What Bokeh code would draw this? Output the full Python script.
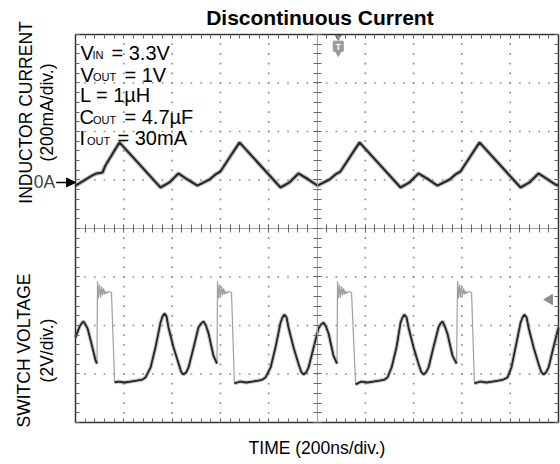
import numpy as np
from bokeh.plotting import figure
from bokeh.models import (Range1d, LinearAxis, FixedTicker, Label, Arrow,
                          NormalHead, ColumnDataSource)
from bokeh.embed import file_html
from bokeh.resources import INLINE

# ---------------- data ----------------
# Inductor current (200 mA/div), time in ns (200 ns/div)
cur_time = [0, 29, 70, 87, 112, 124, 182, 352, 389, 426, 464, 505, 555, 580, 600, 679,
            849, 886, 923, 965, 1002, 1052, 1077, 1097, 1176,
            1346, 1383, 1420, 1462, 1499, 1549, 1574, 1594, 1673,
            1843, 1880, 1917, 1988, 2000]
cur_mA = [-13, 4, 29, 37, 41, 70, 165, -21, 0, 37, 12, -13, 12, 33, 45, 165,
          -21, 0, 37, 12, -13, 12, 33, 45, 165,
          -21, 0, 37, 12, -13, 12, 33, 45, 165,
          -21, 0, 37, -9, -13]

# Switch-node voltage (2 V/div)
sw_time = [0, 17, 25, 33, 41, 50, 66, 83, 89,
           91, 95, 99, 104, 108, 112, 116, 120, 124, 128, 137, 149,
           162, 178, 203, 228, 253, 277, 290,
           311, 331, 352, 360, 369, 377, 385, 406, 427, 437, 447, 458, 468, 489, 509, 520, 530, 540,
           551, 571, 586,
           588, 592, 596, 600, 605, 609, 613, 617, 621, 625, 634, 646,
           658, 683, 708, 733, 758, 774, 787,
           808, 828, 849, 857, 865, 874, 882, 903, 923, 934, 944, 955, 965, 986, 1006, 1017, 1027,
           1037, 1048, 1068, 1083,
           1085, 1089, 1093, 1097, 1102, 1106, 1110, 1114, 1118, 1122, 1130, 1143,
           1160, 1184, 1209, 1234, 1259, 1280, 1292,
           1309, 1329, 1346, 1354, 1362, 1371, 1379, 1400, 1420, 1431, 1441, 1451, 1462, 1482, 1503,
           1511, 1520, 1528, 1540, 1561, 1578,
           1582, 1586, 1590, 1594, 1598, 1603, 1607, 1611, 1615, 1619, 1627, 1640,
           1652, 1677, 1702, 1727, 1752, 1772, 1789,
           1805, 1822, 1843, 1851, 1859, 1868, 1876, 1897, 1917, 1928, 1938, 1948, 1959, 1979, 2000]
sw_volt = [1.86, 2.31, 2.43, 2.52, 2.39, 2.23, 1.61, 0.91, 0.78,
           4.17, 3.46, 4.04, 3.51, 3.96, 3.59, 3.88, 3.63, 3.79, 3.67, 3.75, 3.71,
           0.00, 0.04, 0.00, 0.04, 0.08, 0.12, 0.21,
           0.62, 1.44, 2.47, 2.72, 2.85, 2.72, 2.27, 1.44, 0.78, 0.45, 0.33, 0.41, 0.62, 1.44, 2.27,
           2.43, 2.52, 2.35, 2.02, 1.11, 0.78,
           4.17, 3.46, 4.04, 3.51, 3.96, 3.59, 3.88, 3.63, 3.79, 3.67, 3.75, 3.71,
           -0.04, 0.04, 0.00, 0.04, 0.08, 0.12, 0.21,
           0.62, 1.44, 2.47, 2.68, 2.80, 2.68, 2.27, 1.44, 0.78, 0.45, 0.33, 0.41, 0.62, 1.44, 2.23,
           2.39, 2.47, 2.31, 2.02, 1.11, 0.78,
           4.17, 3.46, 4.04, 3.51, 3.96, 3.59, 3.88, 3.63, 3.79, 3.67, 3.75, 3.71,
           -0.08, 0.04, 0.00, 0.04, 0.08, 0.12, 0.21,
           0.62, 1.44, 2.47, 2.68, 2.80, 2.68, 2.27, 1.44, 0.78, 0.45, 0.33, 0.41, 0.62, 1.44, 2.27,
           2.43, 2.52, 2.35, 2.02, 1.11, 0.78,
           4.17, 3.46, 4.04, 3.51, 3.96, 3.59, 3.88, 3.63, 3.79, 3.67, 3.75, 3.71,
           -0.04, 0.04, 0.00, 0.04, 0.08, 0.12, 0.21,
           0.62, 1.44, 2.47, 2.68, 2.80, 2.68, 2.27, 1.44, 0.78, 0.45, 0.33, 0.41, 0.62, 1.44, 2.27]

trigger_time = 1088   # ns
trigger_level = 3.42  # V

title = "Discontinuous Current"
x_label = "TIME (200ns/div.)"
y1_label = ["INDUCTOR CURRENT", "(200mA/div.)"]
y2_label = ["SWITCH VOLTAGE", "(2V/div.)"]

FONT = "Liberation Sans"

# screen: 10 x 200 ns horizontally, 8 divisions vertically
SCREEN_T = (0, 2000)
SCREEN_DIV = (-4, 4)
ZERO_A_DIV = 0.95      # 0 A marker position (divisions above centre)
ZERO_V_DIV = -3.175    # 0 V level of the switch trace (divisions)
MA_PER_DIV = 200
V_PER_DIV = 2

# canvas extent expressed in screen units (screen occupies the middle of the canvas)
x_lo, x_hi = -310.6, 2008.3
y_lo, y_hi = -4.866, 4.701

# ---------------- figure ----------------
p = figure(width=560, height=464, x_range=Range1d(x_lo, x_hi), y_range=Range1d(y_lo, y_hi),
           x_axis_type=None, y_axis_type=None, output_backend="svg",
           toolbar_location=None, min_border=0)
p.title.text = ""
p.outline_line_color = None
p.background_fill_color = "white"
p.border_fill_color = "white"

p.extra_y_ranges = {
    "cur": Range1d((y_lo - ZERO_A_DIV) * MA_PER_DIV, (y_hi - ZERO_A_DIV) * MA_PER_DIV),
    "volt": Range1d((y_lo - ZERO_V_DIV) * V_PER_DIV, (y_hi - ZERO_V_DIV) * V_PER_DIV),
}

xt_major = list(range(0, 2001, 200))
xt_minor = list(range(0, 2001, 40))
yt_major = list(range(-4, 5))
yt_minor = [round(v, 1) for v in np.arange(-4, 4.01, 0.2)]

# dotted graticule: dots at every minor division along each major line
gx = [t for t in xt_major if t not in (0, 1000, 2000)]
gy = [t for t in yt_major if t not in (-4, 0, 4)]
dot_x = [x for x in gx for y in yt_minor[1:-1]] + [x for y in gy for x in xt_minor[1:-1]]
dot_y = [y for x in gx for y in yt_minor[1:-1]] + [y for y in gy for x in xt_minor[1:-1]]
p.scatter(dot_x, dot_y, marker="square", size=1.7, line_width=0, fill_color="#8f8f8f")


def tick_axis(panel, ticks, minor, fixed, bounds, tin=0, tout=0, line_color="#333333",
              line_width=1.5):
    ax = LinearAxis(ticker=FixedTicker(ticks=ticks, minor_ticks=minor),
                    fixed_location=fixed, bounds=bounds,
                    major_tick_in=tin, major_tick_out=tout,
                    minor_tick_in=tin, minor_tick_out=tout,
                    axis_line_color=line_color, axis_line_width=line_width,
                    major_tick_line_color="#666666", minor_tick_line_color="#666666",
                    major_label_text_color=None)
    p.add_layout(ax, panel)
    return ax


# centre cross-hair
tick_axis("below", xt_major, xt_minor, 0, SCREEN_T, tin=4, tout=4, line_color="#a0a0a0", line_width=1)
tick_axis("left", yt_major, yt_minor, 1000, SCREEN_DIV, tin=4, tout=4, line_color="#a0a0a0", line_width=1)
# screen border with inward ticks
tick_axis("below", xt_major, xt_minor, SCREEN_DIV[0], SCREEN_T, tin=4)
tick_axis("below", xt_major, xt_minor, SCREEN_DIV[1], SCREEN_T, tout=4)
tick_axis("left", yt_major, yt_minor, SCREEN_T[0], SCREEN_DIV, tin=4)
tick_axis("left", yt_major, yt_minor, SCREEN_T[1], SCREEN_DIV, tout=4)

# ---------------- traces ----------------
cur_src = ColumnDataSource(dict(t=cur_time, i=cur_mA))
p.line("t", "i", source=cur_src, y_range_name="cur", line_color="#8a8a8a",
       line_width=4.5, line_alpha=0.55)
p.line("t", "i", source=cur_src, y_range_name="cur", line_color="#262626",
       line_width=2.1)

sv = np.array(sw_volt, dtype=float)
dark = np.where(sv < 3.3, sv, np.nan)
sw_src = ColumnDataSource(dict(t=sw_time, v=sv, vd=dark))
p.line("t", "v", source=sw_src, y_range_name="volt", line_color="#a0a0a0", line_width=1.2)
p.line("t", "vd", source=sw_src, y_range_name="volt", line_color="#8a8a8a",
       line_width=4.0, line_alpha=0.5)
p.line("t", "vd", source=sw_src, y_range_name="volt", line_color="#262626",
       line_width=1.8)

# trigger markers
p.scatter([trigger_time], [3.96], marker="inverted_triangle", size=7, color="#8c8c8c")
p.scatter([trigger_time], [3.76], marker="square", size=10, color="#9a9a9a")
p.scatter([trigger_time], [3.63], marker="inverted_triangle", size=7, color="#9a9a9a")
p.add_layout(Label(x=trigger_time, y=3.74, text="T", text_color="white", text_font=FONT,
                   text_font_style="bold", text_font_size="9px", text_align="center",
                   text_baseline="middle"))
p.scatter([1963], [trigger_level], y_range_name="volt", marker="triangle", angle=np.pi / 2,
          size=10, color="#8c8c8c")

# 0A marker
p.add_layout(Arrow(end=NormalHead(size=9, fill_color="black", line_color="black"),
                   x_start=-80, y_start=0, x_end=0, y_end=0, y_range_name="cur",
                   line_width=1.5, line_color="black"))
p.add_layout(Label(x=-84, y=0, y_range_name="cur", text="0A", text_font=FONT,
                   text_font_size="17.5px", text_align="right", text_baseline="middle"))

# ---------------- texts ----------------
def lab(x, y, text, size="17.5px", style="normal", align="left", baseline="alphabetic", angle=0):
    p.add_layout(Label(x=x, y=y, text=text, text_font=FONT, text_font_size=size,
                       text_font_style=style, text_align=align, text_baseline=baseline,
                       angle=angle, text_color="black"))

lab(1012, 4.36, title, size="21px", style="bold", align="center", baseline="middle")
lab(1000, -4.536, x_label, align="center", baseline="middle")
lab(-207, 2.392, y1_label[0], align="center", baseline="middle", angle=np.pi / 2)
lab(-116, 2.392, y1_label[1], align="center", baseline="middle", angle=np.pi / 2)
lab(-213, -2.515, y2_label[0], align="center", baseline="middle", angle=np.pi / 2)
lab(-120, -2.515, y2_label[1], align="center", baseline="middle", angle=np.pi / 2)

# condition block
MAIN, SUB = "20px", "11px"
lab(20.7, 3.614, "V", size=MAIN)
lab(70.4, 3.567, "IN", size=SUB)
lab(149.1, 3.614, "= 3.3V", size=MAIN)
lab(20.7, 3.169, "V", size=MAIN)
lab(72.5, 3.120, "OUT", size=SUB)
lab(202.9, 3.169, "= 1V", size=MAIN)
lab(18.6, 2.757, "L = 1µH", size=MAIN)
lab(16.6, 2.309, "C", size=MAIN)
lab(72.5, 2.241, "OUT", size=SUB)
lab(202.9, 2.309, "= 4.7µF", size=MAIN)
lab(16.6, 1.862, "I", size=MAIN)
lab(47.6, 1.814, "OUT", size=SUB)
lab(173.9, 1.862, "= 30mA", size=MAIN)

open("out.html", "w").write(file_html(p, INLINE))
